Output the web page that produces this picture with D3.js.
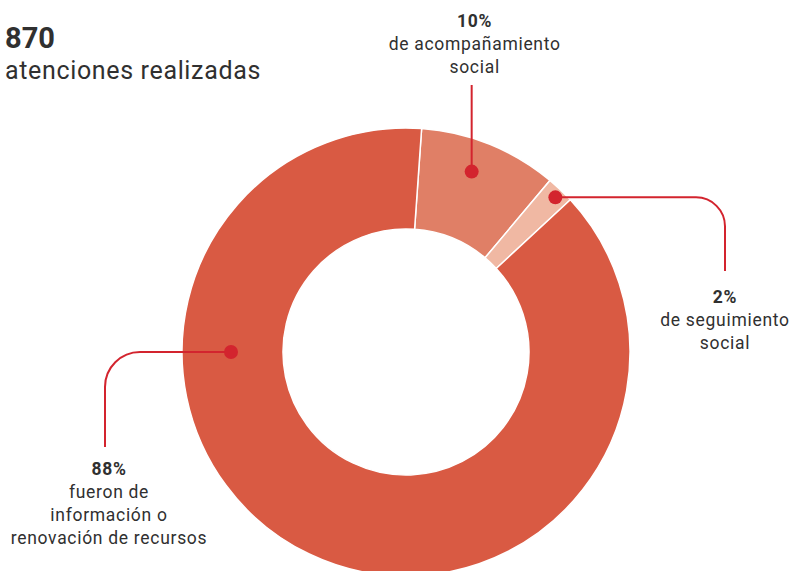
<!DOCTYPE html>
<html>
<head>
<meta charset="utf-8">
<script src="https://cdn.jsdelivr.net/npm/d3@7"></script>
<style>
  body { margin: 0; background: #fff; }
  text { font-family: Roboto, "Liberation Sans", sans-serif; fill: #303030; }
</style>
</head>
<body>
<svg id="chart"></svg>
<script>
// data
var total = 870;
var totalLabel = "atenciones realizadas";
var shares = [10, 2, 88];
var shareLabels = ["10%", "2%", "88%"];
var descriptions = [
    ["de acompañamiento", "social"],
    ["de seguimiento", "social"],
    ["fueron de", "información o", "renovación de recursos"]
];
var colors = ["#e07f66", "#f0b8a3", "#d95a43"];

var width = 809, height = 571;
var cx = 406, cy = 352;
var outerR = 224, innerR = 123;
var startDeg = 4;
var lineColor = "#d3242e";

var svg = d3.select("#chart")
    .attr("width", width)
    .attr("height", height);

// title
svg.append("text")
    .attr("x", 5).attr("y", 48)
    .attr("font-size", 29).attr("font-weight", 700)
    .text(total);
svg.append("text")
    .attr("x", 5).attr("y", 79)
    .attr("font-size", 25)
    .attr("letter-spacing", 0.65)
    .text(totalLabel);

var rad = Math.PI / 180;
var pie = d3.pie().sort(null)
    .startAngle(startDeg * rad)
    .endAngle(startDeg * rad + 2 * Math.PI);
var arcs = pie(shares);

var arc = d3.arc().innerRadius(innerR).outerRadius(outerR);

var g = svg.append("g").attr("transform", "translate(" + cx + "," + cy + ")");

g.selectAll("path.slice")
    .data(arcs)
    .join("path")
    .attr("class", "slice")
    .attr("d", arc)
    .attr("fill", (d, i) => colors[i])
    .attr("stroke", "#fff")
    .attr("stroke-width", 1.5);

// callouts: where the dot sits and how the leader runs to the label
var callouts = [
    { angle: 20, r: 192, type: "up", endY: 85, tx: 0, ty: 27 },
    { angle: 44, r: 215, type: "right", cornerX: 725, corner: 29, endY: 271, ty: 303 },
    { angle: 270, r: 175, type: "left", cornerX: 105, corner: 35, endY: 447, ty: 475 }
];

function dotPos(c) {
    var a = c.angle * rad;
    return [cx + c.r * Math.sin(a), cy - c.r * Math.cos(a)];
}

callouts.forEach(function (c, i) {
    var p = dotPos(c);
    var path, labelX;
    if (c.type === "up") {
        path = "M" + p[0] + "," + p[1] + "V" + c.endY;
        labelX = p[0] + 3;
    } else if (c.type === "right") {
        path = "M" + p[0] + "," + p[1] + "H" + (c.cornerX - c.corner) +
            "A" + c.corner + "," + c.corner + " 0 0 1 " + c.cornerX + "," + (p[1] + c.corner) +
            "V" + c.endY;
        labelX = c.cornerX;
    } else {
        path = "M" + p[0] + "," + p[1] + "H" + (c.cornerX + c.corner) +
            "A" + c.corner + "," + c.corner + " 0 0 0 " + c.cornerX + "," + (p[1] + c.corner) +
            "V" + c.endY;
        labelX = c.cornerX + 4;
    }
    svg.append("path")
        .attr("d", path)
        .attr("fill", "none")
        .attr("stroke", lineColor)
        .attr("stroke-width", 2);
    svg.append("circle")
        .attr("cx", p[0]).attr("cy", p[1])
        .attr("r", 7)
        .attr("fill", lineColor);

    var t = svg.append("text")
        .attr("text-anchor", "middle")
        .attr("font-size", 17.5)
        .attr("letter-spacing", 0.7);
    t.append("tspan")
        .attr("x", labelX).attr("y", c.ty)
        .attr("font-weight", 700)
        .text(shareLabels[i]);
    descriptions[i].forEach(function (line, j) {
        t.append("tspan")
            .attr("x", labelX).attr("y", c.ty + 23 * (j + 1))
            .text(line);
    });
});
</script>
</body>
</html>
